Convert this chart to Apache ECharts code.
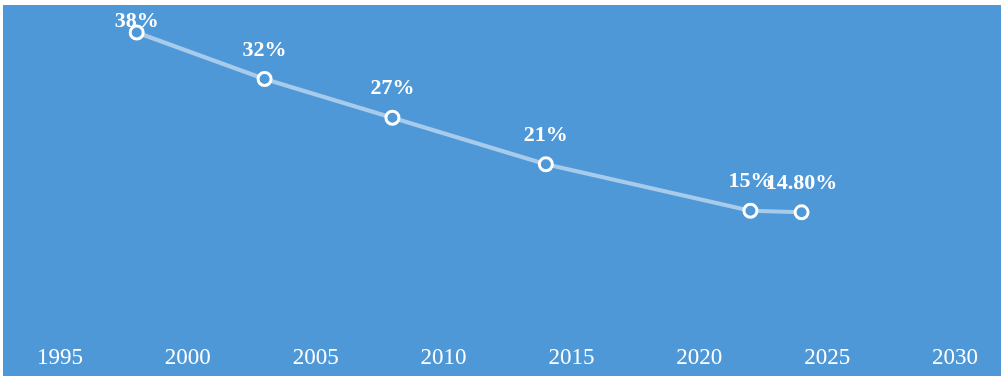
<!DOCTYPE html>
<html>
<head>
<meta charset="utf-8">
<script src="https://cdn.jsdelivr.net/npm/echarts@6/dist/echarts.min.js"></script>
<style>
body { margin: 0; background: #fff; }
#main { position: absolute; left: 3px; top: 5px; width: 998px; height: 371px; background: #4f98d7; }
</style>
</head>
<body>
<div id="main"></div>
<script>
// 年份与比例
var years = [1998, 2003, 2008, 2014, 2022, 2024];
var values = [38, 32, 27, 21, 15, 14.8];
var labels = ["38%", "32%", "27%", "21%", "15%", "14.80%"];

var echart = echarts.init(document.getElementById('main'));

// 第一个点的标签贴着画布顶端，压在点上
var points = years.map(function(y, i){
	var item = { value : [y, values[i]] };
	if(i == 0){
		item.label = { distance : -8 };
	}
	return item;
});

var option = {
	backgroundColor : "#4f98d7",
	grid : {
		left : 57,
		right : 46,
		top : 12,
		bottom : 49
	},
	xAxis : {
		type : "value",
		min : 1995,
		max : 2030,
		interval : 5,
		axisLine : { show : false },
		axisTick : { show : false },
		splitLine : { show : false },
		axisLabel : {
			color : "#fff",
			fontFamily : "Liberation Serif",
			fontSize : 23,
			margin : 19,
			formatter : function(v){
				return String(v);
			}
		}
	},
	yAxis : {
		type : "value",
		min : 0,
		max : 40,
		show : false
	},
	series : [
		{
			type : "line",
			data : points,
			symbol : "circle",
			symbolSize : 13,
			lineStyle : {
				color : "rgba(255,255,255,0.5)",
				width : 4
			},
			itemStyle : {
				color : "#4f98d7",
				borderColor : "#fff",
				borderWidth : 3
			},
			label : {
				show : true,
				position : "top",
				distance : 10,
				color : "#fff",
				fontFamily : "Liberation Serif",
				fontWeight : "bold",
				fontSize : 22,
				formatter : function(p){
					return labels[p.dataIndex];
				}
			},
			z : 3
		}
	]
};
echart.setOption(option);
</script>
</body>
</html>
